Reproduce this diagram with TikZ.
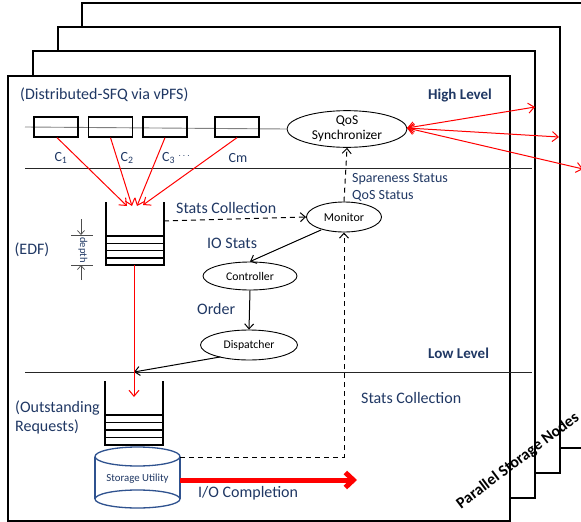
\documentclass[tikz,border=0pt]{standalone}
\usepackage{fontspec}
\setmainfont{Carlito}
\usetikzlibrary{arrows.meta,shapes.geometric}
\definecolor{navy}{RGB}{32,56,100}
\definecolor{cylblue}{RGB}{47,82,143}
\definecolor{arrred}{RGB}{255,0,0}
\tikzset{
  page/.style={draw=black,fill=white,line width=1.3pt},
  sep/.style={draw=black!85,line width=0.8pt},
  cbox/.style={draw=black,line width=1.3pt,minimum width=44pt,minimum height=20pt,inner sep=0pt},
  oval/.style={ellipse,draw=black,line width=0.9pt,inner sep=0pt},
  lbl/.style={text=navy,inner sep=0pt,anchor=west,font=\fontsize{16}{19}\selectfont},
  slbl/.style={text=navy,inner sep=0pt,anchor=west,font=\fontsize{14}{17}\selectfont},
  lvl/.style={text=navy,inner sep=0pt,anchor=west,font=\fontsize{15}{18}\selectfont\bfseries},
  redarr/.style={draw=arrred,line width=1pt,-{Straight Barb[length=6pt,width=10pt]}},
  blkarr/.style={draw=black,line width=1pt,-{Straight Barb[length=5pt,width=9pt]}},
  dasharr/.style={draw=black,line width=1pt,dash pattern=on 5pt off 4pt,-{Straight Barb[length=5pt,width=9pt]}},
  qline/.style={draw=black,line width=1.4pt},
  cyl/.style={draw=cylblue,line width=1.3pt},
}
\begin{document}
\begin{tikzpicture}[x=1pt,y=-1pt]
\useasboundingbox (0,0) rectangle (581,522);
% stacked pages
\draw[page] (82,3) rectangle (600,448);
\draw[page] (58,27) rectangle (560,473);
\draw[page] (33,51) rectangle (535,498);
\draw[page] (8,76) rectangle (510,521);
\node[rotate=37,inner sep=0pt,font=\fontsize{16}{19}\selectfont\bfseries] (psn) at (518,461) {Parallel Storage Nodes};

% level separators
\draw[sep] (25,168) -- (532,168);
\draw[sep] (25,372) -- (532,372);

% top texts
\node[lbl] (dsfq) at (20,95) {(Distributed-SFQ via vPFS)};
\node[lvl] (hl) at (428,96) {High Level};
\node[lvl] (ll) at (428,353) {Low Level};

% QoS synchronizer
\node[oval,minimum width=120pt,minimum height=35pt,align=center,font=\fontsize{13.5}{16}\selectfont] (qos) at (347,129) {QoS\\[-1pt]Synchronizer};
\coordinate (gl) at (25,127);
\draw[gray,line width=0.9pt] (gl) -- (qos.west);

% client boxes
\node[cbox] (b1) at (56,127) {};
\node[cbox] (b2) at (110.5,127) {};
\node[cbox] (b3) at (165,127) {};
\node[cbox] (b4) at (237,127) {};
\node[slbl,anchor=center] (c1) at (61,158) {C\textsubscript{1}};
\node[slbl,anchor=center] (c2) at (127,158) {C\textsubscript{2}};
\node[slbl] (c3) at (162,158) {C\textsubscript{3} \raisebox{3pt}{\fontsize{10}{12}\selectfont$\cdots$}};
\node[slbl,anchor=center] (cm) at (238,158) {Cm};

% EDF queue
\coordinate (q1tl) at (106,202);
\coordinate (q1bl) at (106,265);
\coordinate (q1tr) at (164,202);
\coordinate (q1br) at (164,265);
\draw[qline] (q1tl) -- (q1bl) -- (q1br) -- (q1tr);
\foreach \yy in {236,243.3,250.6,257.9} \draw[qline] (106,\yy) -- (164,\yy);
\coordinate (t1) at (127,206);
\coordinate (t2) at (132,206);
\coordinate (t3) at (137,206);
\coordinate (t4) at (143,205);
\draw[redarr] (b1.south)++(1,0) -- (t1);
\draw[redarr] (b2.south) -- (t2);
\draw[redarr] (b3.south) -- (t3);
\draw[redarr] (b4.south) -- (t4);

% depth marker
\coordinate (dt1) at (71,235);
\coordinate (dt2) at (93,235);
\coordinate (db1) at (71,265);
\coordinate (db2) at (93,265);
\draw[black!70,line width=0.8pt] (dt1) -- (dt2) (db1) -- (db2);
\coordinate (da1) at (81,219);
\coordinate (da2) at (81,235);
\coordinate (da3) at (81,280);
\coordinate (da4) at (81,265);
\draw[black!70,line width=0.7pt,-{Straight Barb[length=4pt,width=7pt]}] (da1) -- (da2);
\draw[black!70,line width=0.7pt,-{Straight Barb[length=4pt,width=7pt]}] (da3) -- (da4);
\node[rotate=-90,text=navy,inner sep=0pt,font=\fontsize{10.5}{12}\selectfont] (depth) at (83,250) {depth};
\node[lbl,anchor=center] (edf) at (32,250) {(EDF)};

% monitor, controller, dispatcher
\node[oval,minimum width=75pt,minimum height=30pt,font=\fontsize{12}{14}\selectfont] (mon) at (344,217) {Monitor};
\node[oval,minimum width=94pt,minimum height=28pt,font=\fontsize{11.7}{14}\selectfont] (ctl) at (250,276) {Controller};
\node[oval,minimum width=97pt,minimum height=30pt,font=\fontsize{11.7}{14}\selectfont] (dsp) at (249,345) {Dispatcher};

\node[lbl] (sc1) at (176,208) {Stats Collection};
\node[slbl] (ss) at (352,179) {Spareness Status};
\node[slbl] (qs) at (352,196) {QoS Status};
\node[lbl] (ios) at (207,243) {IO Stats};
\node[lbl] (ord) at (197,309) {Order};

\coordinate (qr) at (164,221);
\draw[dasharr] (qr) -- (mon.west);
\draw[dasharr] (mon.north) -- (qos.south);
\draw[blkarr] (mon.south west)++(4,2) -- (ctl.north);
\draw[blkarr] (ctl.south) -- (dsp.north);
\coordinate (jn) at (134,372);
\draw[blkarr] (dsp.south west)++(6,1) -- (jn);

% red line down
\coordinate (qb) at (134,265);
\coordinate (q2t) at (134,397);
\draw[redarr] (qb) -- (q2t);

% outstanding queue
\coordinate (q2tl) at (105,381);
\coordinate (q2tr) at (163,381);
\draw[qline] (q2tl) -- (105,445) -- (163,445) -- (q2tr);
\foreach \yy in {415,422.5,430,437.5} \draw[qline] (105,\yy) -- (163,\yy);
\node[lbl] (out1) at (15,408) {(Outstanding};
\node[lbl] (out2) at (15,427) {Requests)};

% storage utility cylinder
\draw[cyl] (95,456.5) -- (95,499) (180,456.5) -- (180,499);
\draw[cyl,fill=white] (137.5,456.5) ellipse [x radius=42.5,y radius=9.5];
\draw[cyl] (137.5,499) ellipse [x radius=42.5,y radius=9];
\node[inner sep=0pt,text=navy,font=\fontsize{10.8}{13}\selectfont] (su) at (137.5,479) {Storage Utility};

\coordinate (cyr) at (180,457);
\coordinate (cyr2) at (180,480);
\draw[dasharr] (cyr) -| (mon.south);
\node[lbl] (sc2) at (361,398) {Stats Collection};
\coordinate (ioend) at (357,480);
\draw[draw=arrred,line width=5pt,-{Straight Barb[length=8pt,width=15pt]}] (cyr2) -- (ioend);
\node[lbl] (ioc) at (198,493) {I/O Completion};

% QoS red arrows to other nodes
\coordinate (p3) at (535,107);
\coordinate (p2) at (559,137);
\coordinate (p1) at (583,169);
\coordinate (qe) at (407,128);
\foreach \p in {p3,p2,p1}
  \draw[draw=arrred,line width=1pt,{Straight Barb[length=6pt,width=10pt]}-{Straight Barb[length=6pt,width=10pt]}] (qe) -- (\p);
\end{tikzpicture}
\end{document}
